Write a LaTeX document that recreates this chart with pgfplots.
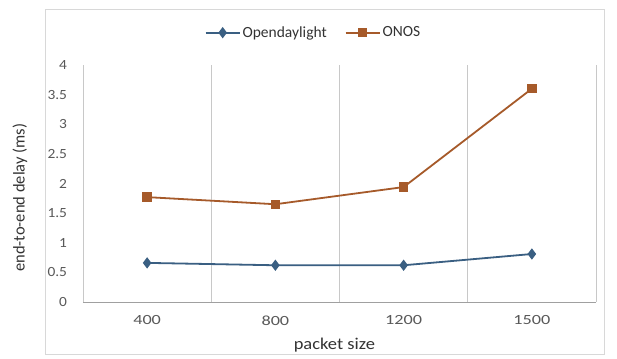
\documentclass[border=0pt]{standalone}
\usepackage{pgfplots}
\pgfplotsset{compat=1.18}
\usepackage{fontspec}
\setmainfont{Carlito}

\definecolor{odlblue}{HTML}{3A5F82}
\definecolor{onosorange}{HTML}{A65A2A}
\definecolor{gridgray}{HTML}{C8C8C8}
\definecolor{ticktext}{HTML}{595959}

\pgfplotstableread{
x size odl onos
0 400  0.66 1.77
1 800  0.62 1.65
2 1200 0.62 1.94
3 1500 0.81 3.60
}\delaydata

\begin{document}
\begin{tikzpicture}[x=1pt,y=1pt]
  % canvas and chart frame
  \fill[white] (0,0) rectangle (617,358);
  \draw[gridgray!70] (45,4) rectangle (604,349);

  \begin{axis}[
    at={(83pt,56pt)}, anchor=south west,
    scale only axis, width=513pt, height=237pt,
    xmin=-0.5, xmax=3.5, ymin=0, ymax=4,
    xtick={0,1,2,3}, xticklabels={400,800,1200,1500},
    minor xtick={-0.5,0.5,1.5,2.5,3.5},
    xminorgrids, minor grid style={gridgray, line width=0.6pt},
    ytick={0,0.5,...,4},
    yticklabels={0,0.5,1,1.5,2,2.5,3,3.5,4},
    axis x line*=bottom, axis y line*=left,
    x axis line style={gridgray!80!black, line width=0.6pt, -},
    y axis line style={draw=none},
    major tick length=0pt, minor tick length=0pt,
    tick label style={font=\fontsize{14}{15}\selectfont, text=ticktext},
    xticklabel style={xscale=1.3, yshift=-10pt},
    yticklabel style={xscale=1.1, xshift=-11pt},
    /pgf/number format/assume math mode=true,
    xlabel={packet size}, ylabel={end-to-end delay (ms)},
    label style={font=\fontsize{16.5}{18}\selectfont, text=black!80},
    xlabel style={at={(axis description cs:0.49,-0.18)}, anchor=center, xscale=1.12},
    ylabel style={at={(axis description cs:-0.123,0.44)}, anchor=center},
    legend style={at={(0.5,1.0)}, anchor=south, xshift=-26pt, yshift=24pt, draw=none,
      fill=none, font=\fontsize{15.5}{16}\selectfont, text=black!80,
      inner sep=0pt, legend columns=2,
      /tikz/every even column/.append style={column sep=16pt}},
    legend image code/.code={
      \draw[#1] (0pt,0pt) -- (34pt,0pt);
      \draw[#1, only marks] plot coordinates {(17pt,0pt)};
    },
  ]
    \addplot[odlblue, line width=1.8pt, mark=diamond*, mark size=4.2pt,
      mark options={fill=odlblue, draw=odlblue}] table[x=x, y=odl] {\delaydata};
    \addlegendentry{Opendaylight}
    \addplot[onosorange, line width=1.8pt, mark=square*, mark size=3.8pt,
      mark options={fill=onosorange, draw=onosorange}] table[x=x, y=onos] {\delaydata};
    \addlegendentry{ONOS}
  \end{axis}
\end{tikzpicture}
\end{document}
